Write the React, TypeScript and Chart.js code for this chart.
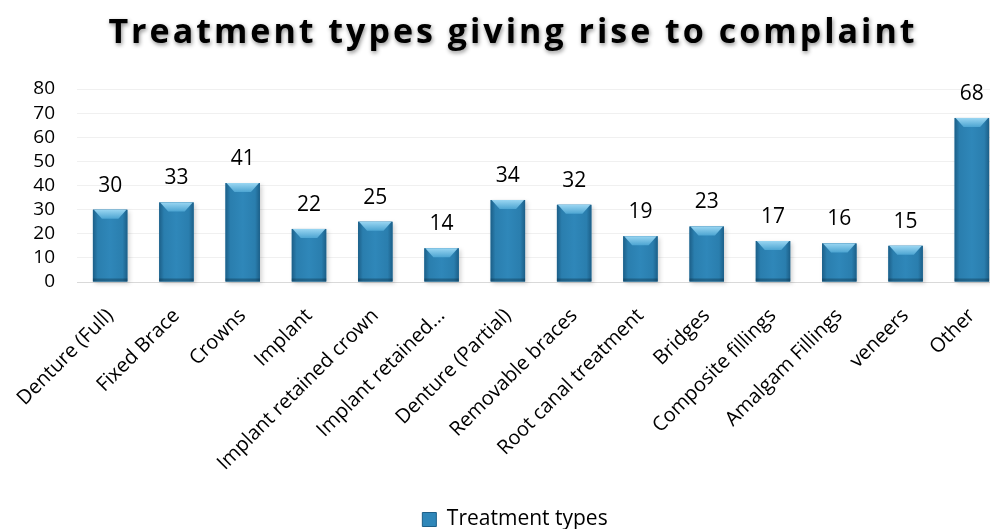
import React, { useEffect, useRef } from "react";
import { Chart, registerables } from "chart.js";

Chart.register(...registerables);

const chartTitle = "Treatment types giving rise to complaint";
const seriesName = "Treatment types";
const categories = [
  "Denture (Full)",
  "Fixed Brace",
  "Crowns",
  "Implant",
  "Implant retained crown",
  "Implant retained...",
  "Denture (Partial)",
  "Removable braces",
  "Root canal treatment",
  "Bridges",
  "Composite fillings",
  "Amalgam Fillings",
  "veneers",
  "Other",
];
const values = [30, 33, 41, 22, 25, 14, 34, 32, 19, 23, 17, 16, 15, 68];
const yMin = 0;
const yMax = 80;
const yStep = 10;

const FONT = "'Open Sans', 'DejaVu Sans', sans-serif";

const titlePlugin = {
  id: "customTitle",
  afterDraw(chart: any) {
    const ctx = chart.ctx;
    ctx.save();
    ctx.font = `bold 34px ${FONT}`;
    (ctx as any).letterSpacing = "3px";
    ctx.textAlign = "center";
    ctx.textBaseline = "alphabetic";
    ctx.shadowColor = "rgba(0,0,0,0.45)";
    ctx.shadowBlur = 4;
    ctx.shadowOffsetX = 1;
    ctx.shadowOffsetY = 2;
    ctx.fillStyle = "#000";
    ctx.fillText(chartTitle, 513, 43);
    ctx.restore();
  },
};

const barStylePlugin = {
  id: "barStyle",
  beforeDatasetsDraw(chart: any) {
    const ctx = chart.ctx;
    const meta = chart.getDatasetMeta(0);
    ctx.save();
    ctx.fillStyle = "rgba(0,0,0,0.18)";
    ctx.filter = "blur(2px)";
    meta.data.forEach((el: any) => {
      const w = el.width;
      ctx.fillRect(el.x - w / 2 + 2, el.y + 2, w, el.base - el.y);
    });
    ctx.restore();
  },
  afterDatasetsDraw(chart: any) {
    const ctx = chart.ctx;
    const meta = chart.getDatasetMeta(0);
    ctx.save();
    meta.data.forEach((el: any, i: number) => {
      const w = el.width;
      const l = el.x - w / 2;
      const r = el.x + w / 2;
      const t = el.y;
      const b = el.base;
      const g = ctx.createLinearGradient(l, 0, r, 0);
      g.addColorStop(0, "#1c5f88");
      g.addColorStop(0.14, "#2a7eae");
      g.addColorStop(0.5, "#2f87b9");
      g.addColorStop(0.86, "#2a7eae");
      g.addColorStop(1, "#1c5f88");
      ctx.fillStyle = g;
      ctx.fillRect(l, t, w, b - t);
      const bev = 9;
      const tg = ctx.createLinearGradient(0, t, 0, t + bev);
      tg.addColorStop(0, "#9ad6f2");
      tg.addColorStop(1, "#4da5d2");
      ctx.fillStyle = tg;
      ctx.beginPath();
      ctx.moveTo(l + 1, t);
      ctx.lineTo(r - 1, t);
      ctx.lineTo(r - bev, t + bev);
      ctx.lineTo(l + bev, t + bev);
      ctx.closePath();
      ctx.fill();
      ctx.fillStyle = "rgba(10,40,60,0.35)";
      ctx.fillRect(l, b - 3, w, 3);
      ctx.fillStyle = "#000";
      ctx.font = `21px ${FONT}`;
      ctx.textAlign = "center";
      ctx.textBaseline = "middle";
      ctx.fillText(String(values[i]), el.x, t - 24);
    });
    ctx.restore();
  },
};

export default function App() {
  const ref = useRef<HTMLCanvasElement>(null);
  useEffect(() => {
    document.documentElement.style.overflow = "hidden";
    document.body.style.overflow = "hidden";
    document.body.style.margin = "0";
    const chart = new Chart(ref.current!, {
      type: "bar",
      data: {
        labels: categories,
        datasets: [
          {
            label: seriesName,
            data: values,
            backgroundColor: "#2a7eae",
            borderWidth: 0,
            barPercentage: 0.52,
            categoryPercentage: 1,
          },
        ],
      },
      options: {
        responsive: false,
        animation: false,
        layout: { padding: { top: 89, right: 0, left: 0, bottom: 0 } },
        plugins: {
          title: { display: false },
          tooltip: { enabled: false },
          legend: {
            display: true,
            position: "bottom",
            labels: {
              color: "#000",
              font: { family: FONT, size: 21 },
              boxWidth: 14,
              boxHeight: 14,
              padding: 2,
              generateLabels: () => [
                {
                  text: seriesName,
                  fillStyle: "#2f87b9",
                  strokeStyle: "#1c5f88",
                  lineWidth: 1,
                  hidden: false,
                  datasetIndex: 0,
                } as any,
              ],
            },
          },
        },
        scales: {
          x: {
            grid: { display: false },
            border: { display: false },
            ticks: {
              color: "#000",
              font: { family: FONT, size: 20 },
              minRotation: 45,
              maxRotation: 45,
              autoSkip: false,
              padding: 14,
            },
            afterFit: (scale: any) => {
              scale.height = 225;
            },
          },
          y: {
            min: yMin,
            max: yMax,
            grid: {
              drawTicks: false,
              color: (c: any) => (c.tick && c.tick.value === 0 ? "#d9d9d9" : "#f0f0f0"),
              lineWidth: 1,
            },
            border: { display: false },
            ticks: {
              stepSize: yStep,
              autoSkip: false,
              color: "#000",
              font: { family: FONT, size: 19 },
              padding: 22,
            },
            afterFit: (scale: any) => {
              scale.width = 77;
            },
          },
          yRight: {
            position: "right",
            display: true,
            min: yMin,
            max: yMax,
            grid: { display: false },
            border: { display: false },
            ticks: { display: false },
            afterFit: (scale: any) => {
              scale.width = 25;
            },
          },
        },
      },
      plugins: [titlePlugin, barStylePlugin],
    });
    return () => chart.destroy();
  }, []);
  return (
    <div style={{ position: "fixed", left: 0, top: 0, width: 1030, height: 529, overflow: "hidden", background: "#fff" }}>
      <canvas ref={ref} width={1030} height={540} style={{ display: "block" }} />
    </div>
  );
}
